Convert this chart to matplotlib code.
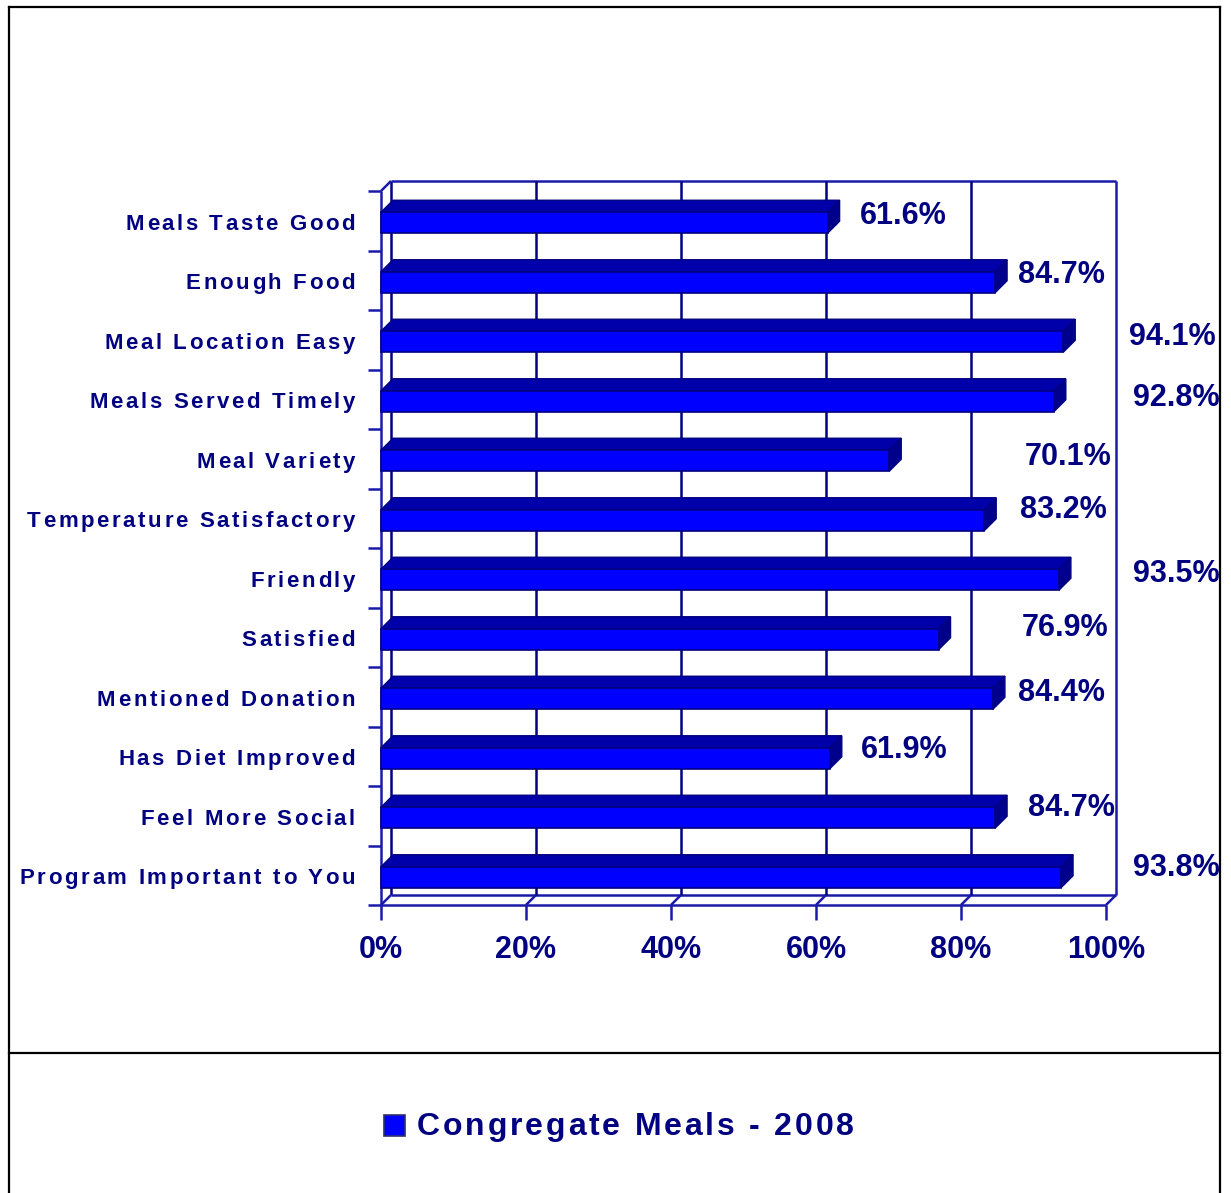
import numpy as np
import matplotlib
matplotlib.use('Agg')
import matplotlib.pyplot as plt
from matplotlib.patches import Rectangle, Polygon
from matplotlib.lines import Line2D
from matplotlib.font_manager import FontProperties, findfont
from matplotlib.ft2font import FT2Font

# data (top to bottom)
categories = ["Meals Taste Good", "Enough Food", "Meal Location Easy",
              "Meals Served Timely", "Meal Variety", "Temperature Satisfactory",
              "Friendly", "Satisfied", "Mentioned Donation", "Has Diet Improved",
              "Feel More Social", "Program Important to You"]
values = [61.6, 84.7, 94.1, 92.8, 70.1, 83.2, 93.5, 76.9, 84.4, 61.9, 84.7, 93.8]
value_labels = ["61.6%", "84.7%", "94.1%", "92.8%", "70.1%", "83.2%",
                "93.5%", "76.9%", "84.4%", "61.9%", "84.7%", "93.8%"]
xticks = [0, 20, 40, 60, 80, 100]
xtick_labels = ["0%", "20%", "40%", "60%", "80%", "100%"]
series_name = "Congregate Meals - 2008"

# where the data labels sit (x in %, y shift in px)
label_x = [72.1, 93.9, 109.2, 109.7, 94.8, 94.1, 109.7, 94.4, 93.9, 72.1, 95.2, 109.7]
label_dy = [-8, -8, -6, -4, -5, -11, -7, -12, -7, -9, -11, -10]

W, H = 1231, 1193
NAVY = '#000080'
AXC = '#1a1aa8'
FRONT = '#0000ff'
TOP = '#0000aa'
SIDE = '#00008c'
FONT = 'Liberation Sans'

fig = plt.figure(figsize=(W / 100, H / 100), dpi=100)
fig.patch.set_facecolor('white')


def fx(x):
    return x / W


def fy(y):
    return 1 - y / H


def spaced_text(x_px, y_base, s, size, spacing, ha='right', color=NAVY):
    #draw text one char at a time so the letter spacing matches
    fp = FontProperties(family=FONT, weight='bold', size=size)
    font = FT2Font(findfont(fp))
    font.set_size(size, 100)
    advs = [font.load_char(ord(c)).linearHoriAdvance / 65536 for c in s]
    total = sum(advs) + spacing * (len(s) - 1)
    x0 = x_px - total if ha == 'right' else x_px
    for c, a in zip(s, advs):
        if c != ' ':
            fig.text(fx(x0), fy(y_base), c, fontproperties=fp, color=color,
                     ha='left', va='baseline')
        x0 += a + spacing


# outer frame and legend divider
frame_kw = dict(color='black', lw=1.6, transform=fig.transFigure)
fig.add_artist(Line2D([fx(9), fx(1220)], [fy(7), fy(7)], **frame_kw))
fig.add_artist(Line2D([fx(9), fx(9)], [fy(7), fy(1193)], **frame_kw))
fig.add_artist(Line2D([fx(1220), fx(1220)], [fy(7), fy(1193)], **frame_kw))
fig.add_artist(Line2D([fx(9), fx(1220)], [fy(1053), fy(1053)], **frame_kw))

# plot area = front plane of the 3D box
x_left, x_right, y_top, y_bot = 381, 1106, 191, 905
ax = fig.add_axes([fx(x_left), fy(y_bot), (x_right - x_left) / W, (y_bot - y_top) / H])
n = len(categories)
ax.set_xlim(0, 100)
ax.set_ylim(0, n)
ax.axis('off')

pxu = (x_right - x_left) / 100.0     # px per %
pyu = (y_bot - y_top) / float(n)     # px per category
wdx, wdy = 10 / pxu, 10 / pyu        # wall depth
bdx, bdy = 12 / pxu, 12 / pyu        # bar depth

line_kw = dict(clip_on=False, solid_capstyle='butt')
# back wall
ax.plot([wdx, wdx], [wdy, n + wdy], color=NAVY, lw=1.8, **line_kw)
ax.plot([wdx, 100 + wdx], [n + wdy, n + wdy], color=AXC, lw=1.8, **line_kw)
ax.plot([100 + wdx, 100 + wdx], [wdy, n + wdy], color=AXC, lw=1.8, **line_kw)
ax.plot([wdx, 100 + wdx], [wdy, wdy], color=AXC, lw=1.8, **line_kw)
for t in xticks[1:-1]:
    ax.plot([t + wdx, t + wdx], [wdy, n + wdy], color=NAVY, lw=1.8, **line_kw)
# floor
ax.plot([0, 100], [0, 0], color=AXC, lw=1.8, **line_kw)
for t in xticks:
    ax.plot([t, t + wdx], [0, wdy], color=AXC, lw=1.8, **line_kw)
    ax.plot([t, t], [0, -15 / pyu], color=AXC, lw=1.8, **line_kw)
# left wall
ax.plot([0, 0], [0, n], color=AXC, lw=1.8, **line_kw)
ax.plot([0, wdx], [n, n + wdy], color=AXC, lw=1.8, **line_kw)
for k in range(n + 1):
    ax.plot([-13 / pxu, 0], [k, k], color=AXC, lw=1.8, **line_kw)

# bars
half = 10.5 / pyu
for i, v in enumerate(values):
    yc = n - i - 0.5 - 2 / pyu
    fb, ft = yc - half, yc + half
    ax.add_patch(Polygon([(0, ft), (v, ft), (v + bdx, ft + bdy), (bdx, ft + bdy)],
                         facecolor=TOP, edgecolor=NAVY, lw=1, clip_on=False, zorder=3))
    ax.add_patch(Polygon([(v, fb), (v, ft), (v + bdx, ft + bdy), (v + bdx, fb + bdy)],
                         facecolor=SIDE, edgecolor=NAVY, lw=1, clip_on=False, zorder=3))
    ax.add_patch(Rectangle((0, fb), v, ft - fb, facecolor=FRONT, edgecolor=NAVY,
                           lw=1.2, clip_on=False, zorder=4))
    ax.annotate(value_labels[i], (label_x[i], n - i - 0.5), xytext=(0, -(label_dy[i] + 11)),
                textcoords='offset pixels', ha='center', va='baseline',
                fontsize=22, fontweight='bold', family=FONT, color=NAVY,
                annotation_clip=False, zorder=5)

# x tick labels
for t, lab in zip(xticks, xtick_labels):
    ax.annotate(lab, (t, 0), xytext=(0, -(958 - y_bot)), textcoords='offset pixels',
                ha='center', va='baseline', fontsize=22, fontweight='bold',
                family=FONT, color=NAVY, annotation_clip=False)

# category labels with wide letter spacing
for i, cat in enumerate(categories):
    yc_px = y_top + pyu * (i + 0.5) + 1
    spaced_text(355, yc_px + 8, cat, 16, 2.6)

# legend
fig.add_artist(Rectangle((fx(384), fy(1136)), 21 / W, 21 / H, transform=fig.transFigure,
                         facecolor=FRONT, edgecolor='#303070', lw=1.2))
spaced_text(417, 1135, series_name, 23, 2.8, ha='left')

fig.savefig('out.png', dpi=100)
